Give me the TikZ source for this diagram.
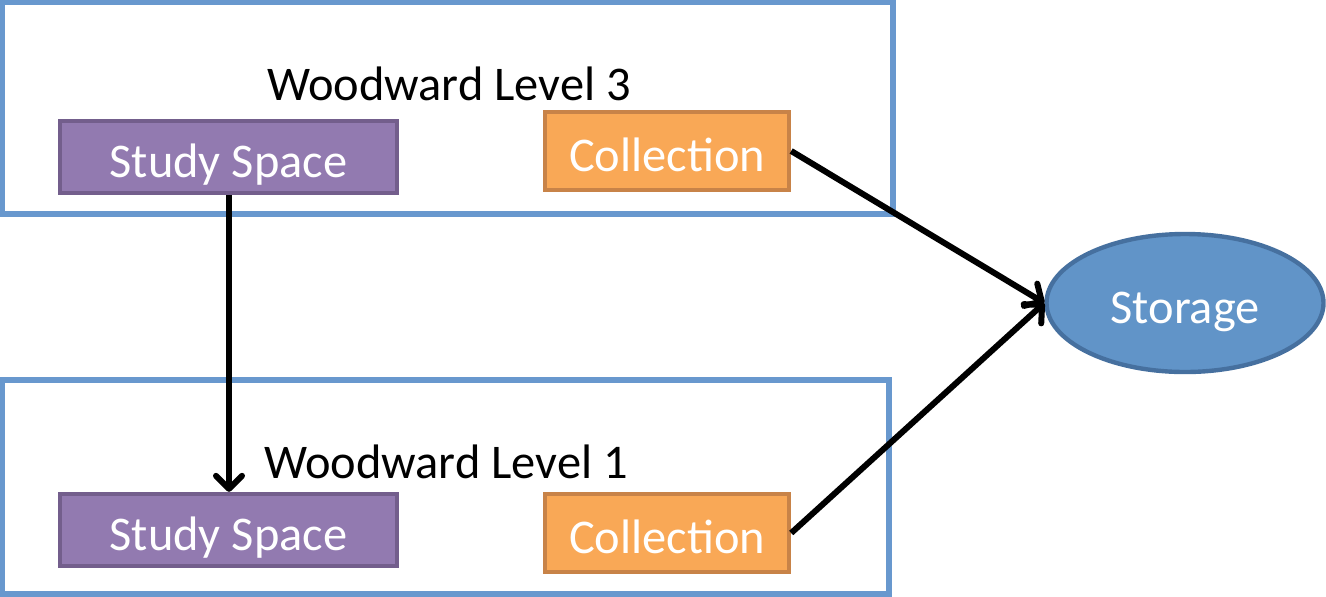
\documentclass[tikz,border=0pt]{standalone}
\usepackage{fontspec}
\setmainfont{Carlito}
\usetikzlibrary{arrows.meta,shapes.geometric}
\definecolor{levelblue}{RGB}{104,152,206}
\definecolor{studyfill}{RGB}{146,122,176}
\definecolor{studyline}{RGB}{115,94,140}
\definecolor{collfill}{RGB}{249,168,86}
\definecolor{collline}{RGB}{200,131,72}
\definecolor{storefill}{RGB}{97,148,200}
\definecolor{storeline}{RGB}{70,112,159}
\begin{document}
\begin{tikzpicture}[x=0.5pt,y=-0.5pt,
  level/.style={draw=levelblue,line width=3pt,inner sep=0pt},
  inbox/.style={line width=2.2pt,text=white,inner sep=0pt,
    text height=20.5pt,text depth=0pt},
  studybox/.style={inbox,draw=studyline,fill=studyfill,
    minimum width=168.5pt,minimum height=36pt},
  collbox/.style={inbox,draw=collline,fill=collfill,
    minimum width=122pt,minimum height=39pt},
  storebox/.style={inbox,ellipse,draw=storeline,fill=storefill,
    minimum width=138.5pt,minimum height=69pt},
  flow/.style={line width=3pt,-{Straight Barb[length=6.5pt,width=13pt,round]}},
  font=\fontsize{24.2}{29}\selectfont]
\useasboundingbox (0,0) rectangle (1326,596);
% floor outlines
\node[level,minimum width=445.5pt,minimum height=106pt] (level3) at (447.5,108) {};
\node[level,minimum width=443.5pt,minimum height=107pt] (level1) at (445.5,487) {};
\node (title3) at (449,84) {Woodward Level 3};
\node (title1) at (446,462) {Woodward Level 1};
% spaces
\node[studybox] (study3) at (228.5,157) {Study Space};
\node[collbox] (coll3) at (667,151) {Collection};
\node[studybox] (study1) at (228.5,530) {Study Space};
\node[collbox] (coll1) at (667,533) {Collection};
\node[storebox] (storage) at (1185,303) {Storage};
% moves
\draw[flow] (study3.south -| 229,0) -- (study1.north -| 229,0);
\draw[flow] (coll3.east) -- (storage.west);
\draw[flow] (coll1.east) -- (storage.west);
\end{tikzpicture}
\end{document}
